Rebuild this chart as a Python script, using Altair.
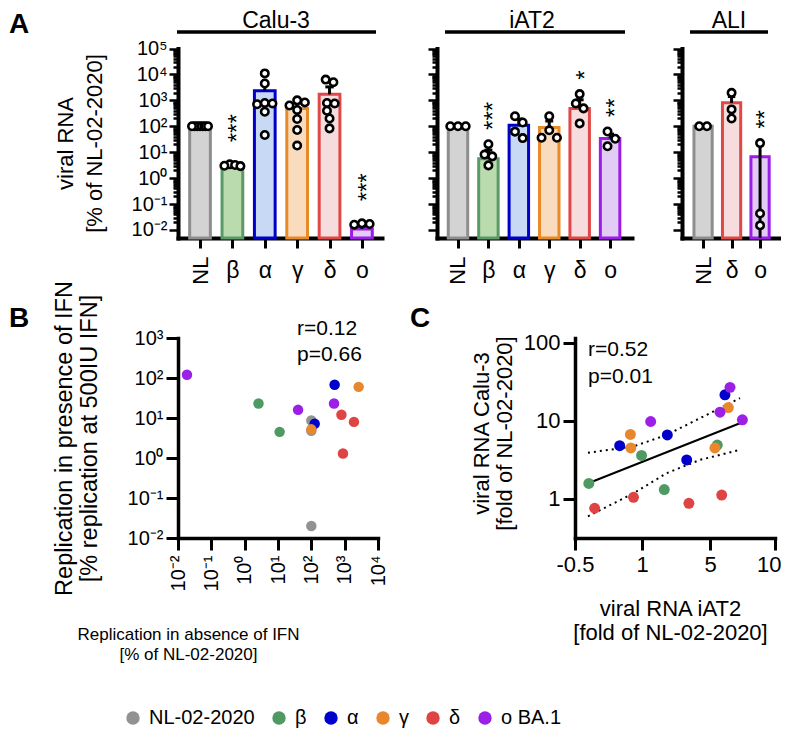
import json
import math
import altair as alt
import pandas as pd

FONT = "Liberation Sans"
OX, OY = 8, 8          # page margin -> chart origin
W, H = 773, 722

def cx(v):
    return v - OX

def cy(v):
    return v - OY

# ---------------- shared categories / colours ----------------
VARIANTS = ["NL", "β", "α", "γ", "δ", "o"]
BAR_FILL = ["#d3d3d3", "#b9dbad", "#c7d9f4", "#f8dcbd", "#f6dcdc", "#e2cbf4"]
BAR_STROKE = ["#8e8e8e", "#5a9a67", "#0000c8", "#e98a28", "#e04848", "#9a1ee6"]
LEGEND_NAMES = ["NL-02-2020", "β", "α", "γ", "δ", "o BA.1"]
DOT_COLORS = ["#929292", "#4f9a62", "#0000cc", "#e8872b", "#df4444", "#9b1fe6"]
POW_LABELS = ["10⁻²", "10⁻¹", "10⁰", "10¹", "10²", "10³", "10⁴", "10⁵"]

# ---------------- panel A : Calu-3 ----------------
CALU3_CATS = ["NL", "β", "α", "γ", "δ", "o"]
CALU3_MEAN = [100, 2.7, 2340, 490, 1700, 0.011]
CALU3_ERR_HI = [100, 3.3, 4400, 800, 3300, 0.014]
CALU3_ERR_LO = [100, 2.7, 2340, 490, 1700, 0.011]
CALU3_PTS_NL = [100, 100, 100, 100, 100, 100, 100]
CALU3_PTS_BETA = [3.4, 3.0, 3.2, 2.9]
CALU3_PTS_ALPHA = [10965, 4467, 794, 759, 708, 363, 46]
CALU3_PTS_GAMMA = [1000, 832, 631, 427, 191, 72, 18]
CALU3_PTS_DELTA = [6310, 5012, 794, 759, 398, 200, 83]
CALU3_PTS_OMICRON = [0.017, 0.016, 0.018]
CALU3_STARS = ["", "***", "", "", "", "***"]

# ---------------- panel A : iAT2 ----------------
IAT2_CATS = ["NL", "β", "α", "γ", "δ", "o"]
IAT2_MEAN = [100, 5.6, 110, 89, 490, 34]
IAT2_ERR_HI = [100, 12, 190, 160, 1050, 50]
IAT2_ERR_LO = [100, 5.6, 110, 89, 490, 34]
IAT2_PTS_NL = [100, 100, 100]
IAT2_PTS_BETA = [20.4, 8.1, 6.9, 3.1]
IAT2_PTS_ALPHA = [245, 140, 62, 35]
IAT2_PTS_GAMMA = [245, 70, 36, 36]
IAT2_PTS_DELTA = [1740, 759, 490, 129]
IAT2_PTS_OMICRON = [63, 33, 17]
IAT2_STARS = ["", "***", "", "", "*", "**"]

# ---------------- panel A : ALI ----------------
ALI_CATS = ["NL", "δ", "o"]
ALI_MEAN = [100, 800, 6.6]
ALI_ERR_HI = [100, 1400, 22]
ALI_ERR_LO = [100, 800, 0.005]
ALI_PTS_NL = [100, 100]
ALI_PTS_DELTA = [1950, 447, 200]
ALI_PTS_OMICRON = [22.4, 0.043, 0.015]
ALI_STARS = ["", "", "**"]

# ---------------- panel B ----------------
B_VARIANT = ["o BA.1", "β", "β", "o BA.1", "NL-02-2020", "NL-02-2020", "α", "γ",
             "NL-02-2020", "α", "o BA.1", "γ", "δ", "δ", "δ"]
B_X = [0.0186, 2.6, 11.2, 40, 100, 100, 126, 100, 100, 500, 480, 2630, 800, 1900, 890]
B_Y = [120, 23, 4.5, 16, 8.7, 4.8, 7.2, 5.2, 0.02, 68, 23, 60, 12, 8, 1.3]
B_STATS = "r=0.12\np=0.66"

# ---------------- panel C ----------------
C_VARIANT = ["β", "β", "β", "β", "δ", "δ", "δ", "δ", "α", "α", "α", "α",
             "γ", "γ", "γ", "γ", "o BA.1", "o BA.1", "o BA.1", "o BA.1"]
C_X = [-0.19, 0.99, 2.31, 5.56, -0.06, 0.81, 3.76, 5.9, 0.5, 2.49, 3.63, 6.15,
       0.74, 0.75, 5.38, 6.41, 1.51, 5.77, 6.54, 7.49]
C_Y = [1.58, 3.6, 1.32, 4.9, 0.76, 1.05, 0.88, 1.12, 4.8, 6.6, 3.16, 21.5,
       6.7, 4.5, 4.5, 14.8, 9.8, 12.9, 26.8, 10.3]
C_FIT_X = [-0.19, 7.3]
C_FIT_Y = [1.6, 9.3]
C_BAND_X = [-0.21, 0.81, 2.45, 4.41, 7.31]
C_BAND_UP = [3.9, 4.7, 6.6, 10.8, 19.5]
C_BAND_LO = [0.6, 1.18, 2.14, 3.16, 4.25]
C_STATS = "r=0.52\np=0.01"
C_X_TICKS = [-0.5, 1, 5, 10]

# ---------------- layout constants (page pixels) ----------------
A_Y_MIN = 10 ** -2.31
A_Y_RANGE = [cy(238), cy(48.5)]
A_PX_DECADE = 25.86
A_AX_BOTTOM = cy(238)

FILL_SCALE = alt.Scale(domain=VARIANTS, range=BAR_FILL)
STROKE_SCALE = alt.Scale(domain=VARIANTS, range=BAR_STROKE)
COLOR_SCALE = alt.Scale(domain=LEGEND_NAMES, range=DOT_COLORS)

LOGE = "round(log(datum.value)/LN10)"
IS_MAJOR = f"abs(log(datum.value)/LN10 - {LOGE}) < 0.001"
POW_EXPR = f"{IS_MAJOR} ? {json.dumps(POW_LABELS, ensure_ascii=False)}[{LOGE} + 2] : ''"
A_TICKS = [m * 10 ** k for k in range(-2, 5) for m in range(1, 10)] + [100000]


def swarm(values, ppu, ppd=A_PX_DECADE, step=7.7, dmin=7.5, limit=8.0):
    ys = [math.log10(v) * ppd for v in values]
    order = sorted(range(len(values)), key=lambda k: -ys[k])
    offs = [0.0] * len(values)
    placed = []
    for k in order:
        x = 0.0
        for c in (0, 1, -1, 2, -2, 3, -3, 4, -4, 5, -5):
            x = c * step
            if all((x - px) ** 2 + (ys[k] - py) ** 2 >= dmin ** 2 for px, py in placed):
                break
        placed.append((x, ys[k]))
        offs[k] = x
    rows = []
    for k in order:
        if rows and abs(ys[rows[-1][-1]] - ys[k]) < dmin:
            rows[-1].append(k)
        else:
            rows.append([k])
    for row in rows:
        if len(row) > 1:
            m = sum(offs[k] for k in row) / len(row)
            for k in row:
                offs[k] -= m
    mx = max(abs(o) for o in offs)
    if mx > limit:
        offs = [o * limit / mx for o in offs]
    return [o / ppu for o in offs]


def bar_panel(cats, means, hi, lo, point_lists, stars, x_page, x_domain, star_gap,
              header, header_line, header_x, show_y_labels):
    n = len(cats)
    x_rng = [cx(x_page[0]), cx(x_page[1])]
    ppu = (x_page[1] - x_page[0]) / (x_domain[1] - x_domain[0])
    xs = alt.Scale(domain=x_domain, range=x_rng, zero=False, nice=False)
    ys = alt.Scale(type="log", domain=[A_Y_MIN, 100000], range=A_Y_RANGE, nice=False)

    star_y = [max(p) * 10 ** star_gap for p in point_lists]
    bar_df = pd.DataFrame({"cat": cats, "i": list(range(n)), "mean": means,
                           "hi": hi, "lo": lo, "stars": stars, "sy": star_y})
    rows = []
    for i, (c, vals) in enumerate(zip(cats, point_lists)):
        for v, o in zip(vals, swarm(vals, ppu)):
            rows.append({"cat": c, "value": v, "px": i + o})
    pts_df = pd.DataFrame(rows)

    y_axis = alt.Axis(
        orient="left", offset=-x_rng[0], values=A_TICKS, labelExpr=POW_EXPR,
        labels=show_y_labels, labelFontSize=20, labelPadding=2, labelOverlap=False,
        labelFlush=False, labelBound=False,
        tickSize={"condition": {"test": IS_MAJOR, "value": 9}, "value": 5},
        tickWidth=2.5, domainWidth=4, domainCap="square", grid=False,
        title=(["viral RNA", "[% of NL-02-2020]"] if show_y_labels else None),
        titleAngle=270, titleBaseline="top", titleAlign="center",
        titleX=cx(55) - x_rng[0], titleY=cy(143), titleFontSize=22,
        titleLineHeight=29, titleFontWeight="normal")
    greek = json.dumps(cats, ensure_ascii=False)
    x_axis = alt.Axis(
        orient="bottom", offset=A_AX_BOTTOM - H, values=list(range(1, n)),
        labelExpr=f"{greek}[datum.value]", labelAngle=0, labelAlign="center",
        labelBaseline="top", labelFontSize=23, labelPadding=11, labelFlush=False,
        labelOverlap=False, tickSize=10, tickWidth=3, domainWidth=4,
        domainCap="square", grid=False, title=None)
    nl_axis = alt.Axis(
        orient="bottom", offset=A_AX_BOTTOM - H, values=[0],
        labelExpr=f"{greek}[datum.value]", labelAngle=270, labelAlign="right",
        labelBaseline="middle", labelFontSize=22, labelPadding=8, labelFlush=False,
        tickSize=10, tickWidth=3, domain=False, grid=False, title=None)

    base = alt.Chart(bar_df)
    bars = base.transform_calculate(
        x0="datum.i - 0.32", x1="datum.i + 0.32"
    ).mark_bar(strokeWidth=3).encode(
        x=alt.X("x0:Q", scale=xs, axis=x_axis),
        x2="x1:Q",
        y=alt.Y("mean:Q", scale=ys, axis=y_axis),
        y2=alt.datum(A_Y_MIN),
        fill=alt.Fill("cat:N", scale=FILL_SCALE, legend=None),
        stroke=alt.Stroke("cat:N", scale=STROKE_SCALE, legend=None),
    )
    err = base.mark_rule(strokeWidth=3, color="black").encode(
        x=alt.X("i:Q", scale=xs, axis=nl_axis),
        y=alt.Y("lo:Q", scale=ys, axis=None),
        y2="hi:Q",
    )
    caps = base.transform_filter("datum.hi > datum.mean * 1.05").transform_calculate(
        c0="datum.i - 0.13", c1="datum.i + 0.13"
    ).mark_rule(strokeWidth=3, color="black").encode(
        x=alt.X("c0:Q", scale=xs, axis=None), x2="c1:Q",
        y=alt.Y("hi:Q", scale=ys, axis=None),
    )
    pts = alt.Chart(pts_df).mark_circle(
        size=55, fill="white", stroke="black", strokeWidth=2.6, opacity=1
    ).encode(
        x=alt.X("px:Q", scale=xs, axis=None),
        y=alt.Y("value:Q", scale=ys, axis=None),
    )
    star = base.transform_filter("datum.stars != ''").mark_text(
        angle=270, align="left", baseline="middle", fontSize=24, dy=6, color="black"
    ).encode(
        x=alt.X("i:Q", scale=xs, axis=None),
        y=alt.Y("sy:Q", scale=ys, axis=None),
        text="stars:N",
    )
    hdf = pd.DataFrame({"label": [header]})
    hline = alt.Chart(hdf).mark_rule(strokeWidth=3.5, color="black").encode(
        x=alt.value(cx(header_line[0])), x2=alt.value(cx(header_line[1])),
        y=alt.value(cy(32)),
    )
    htext = alt.Chart(hdf).mark_text(fontSize=23, baseline="middle", align="center",
                                     color="black").encode(
        x=alt.value(cx(header_x)), y=alt.value(cy(21)), text="label:N",
    )
    return alt.layer(bars, err, caps, pts, star, hline, htext).resolve_axis(
        x="independent", y="independent")


calu3 = bar_panel(
    CALU3_CATS, CALU3_MEAN, CALU3_ERR_HI, CALU3_ERR_LO,
    [CALU3_PTS_NL, CALU3_PTS_BETA, CALU3_PTS_ALPHA, CALU3_PTS_GAMMA,
     CALU3_PTS_DELTA, CALU3_PTS_OMICRON],
    CALU3_STARS, (178, 382), [-0.68, 5.62], 0.85, "Calu-3", (177, 376), 276, True)
iat2 = bar_panel(
    IAT2_CATS, IAT2_MEAN, IAT2_ERR_HI, IAT2_ERR_LO,
    [IAT2_PTS_NL, IAT2_PTS_BETA, IAT2_PTS_ALPHA, IAT2_PTS_GAMMA,
     IAT2_PTS_DELTA, IAT2_PTS_OMICRON],
    IAT2_STARS, (437, 632), [-0.69, 5.72], 0.55, "iAT2", (445, 625), 532, False)
ali = bar_panel(
    ALI_CATS, ALI_MEAN, ALI_ERR_HI, ALI_ERR_LO,
    [ALI_PTS_NL, ALI_PTS_DELTA, ALI_PTS_OMICRON],
    ALI_STARS, (682, 780), [-0.74, 2.7], 0.55, "ALI", (690, 768), 729, False)

# ---------------- panel B ----------------
b_df = pd.DataFrame({"variant": B_VARIANT, "x": B_X, "y": B_Y})
bxs = alt.Scale(type="log", domain=[0.01, 10000], range=[cx(178), cx(378)], nice=False)
bys = alt.Scale(type="log", domain=[0.01, 1000], range=[cy(538), cy(338)], nice=False)
b_xaxis = alt.Axis(
    orient="bottom", offset=cy(538) - H, values=[0.01, 0.1, 1, 10, 100, 1000, 10000],
    labelExpr=POW_EXPR, labelAngle=270, labelAlign="right", labelBaseline="middle",
    labelFontSize=20, labelPadding=5, labelOverlap=False, labelFlush=False,
    tickSize=12, tickWidth=3, domainWidth=3.5, domainCap="square", grid=False,
    title=["Replication in absence of IFN", "[% of NL-02-2020]"],
    titleFontSize=17, titleBaseline="top", titleAlign="center",
    titleX=cx(188), titleY=88, titleLineHeight=20, titleFontWeight="normal")
b_yaxis = alt.Axis(
    orient="left", offset=-cx(178), values=[0.01, 0.1, 1, 10, 100, 1000],
    labelExpr=POW_EXPR, labelFontSize=20, labelPadding=3, labelOverlap=False,
    labelFlush=False, tickSize=12, tickWidth=3, domainWidth=3.5, domainCap="square",
    grid=False,
    title=["Replication in presence of IFN", "[% replication at 500IU IFN]"],
    titleFontSize=23.5, titleAngle=270, titleBaseline="top", titleAlign="center",
    titleX=cx(52) - cx(178), titleY=cy(438), titleLineHeight=25,
    titleFontWeight="normal")
b_pts = alt.Chart(b_df).mark_circle(size=110, opacity=1).encode(
    x=alt.X("x:Q", scale=bxs, axis=b_xaxis),
    y=alt.Y("y:Q", scale=bys, axis=b_yaxis),
    color=alt.Color("variant:N", scale=COLOR_SCALE, legend=alt.Legend(
        orient="none", legendX=cx(123), legendY=cy(708), direction="horizontal",
        columns=6, title=None, symbolType="circle", symbolSize=180,
        symbolStrokeWidth=0, labelFontSize=20, labelOffset=6, columnPadding=14,
        labelFont=FONT, labelColor="black")),
)
b_txt = alt.Chart(pd.DataFrame({"t": [B_STATS]})).mark_text(
    align="left", baseline="top", fontSize=21, lineBreak="\n", lineHeight=26,
    color="black").encode(x=alt.value(cx(297)), y=alt.value(cy(318)), text="t:N")
panel_b = alt.layer(b_pts, b_txt)

# ---------------- panel C ----------------
c_df = pd.DataFrame({"variant": C_VARIANT, "x": C_X, "y": C_Y})
fit_df = pd.DataFrame({"x": C_FIT_X, "y": C_FIT_Y})
band_df = pd.DataFrame({
    "x": C_BAND_X + C_BAND_X,
    "y": C_BAND_UP + C_BAND_LO,
    "band": ["upper"] * len(C_BAND_X) + ["lower"] * len(C_BAND_X),
})
cxs = alt.Scale(domain=C_X_TICKS, range=[cx(575), cx(642), cx(710), cx(775)],
                zero=False, nice=False)
cys = alt.Scale(type="log", domain=[10 ** -0.5, 10 ** 2.06], range=[cy(538), cy(338)],
                nice=False)
c_xaxis = alt.Axis(
    orient="bottom", offset=cy(538) - H, values=C_X_TICKS, labelExpr="'' + datum.value",
    labelFontSize=22, labelPadding=4, labelFlush=False, labelOverlap=False,
    labelAlign={"condition": {"test": "datum.value == 10", "value": "right"},
                "value": "center"},
    labelOffset={"condition": {"test": "datum.value == 10", "value": 6}, "value": 0},
    tickSize=12, tickWidth=3, domainWidth=3.5, domainCap="square", grid=False,
    title=["viral RNA iAT2", "[fold of NL-02-2020]"], titleFontSize=22,
    titleBaseline="top", titleAlign="center", titleX=cx(670), titleY=60,
    titleLineHeight=24, titleFontWeight="normal")
c_yaxis = alt.Axis(
    orient="left", offset=-cx(575), values=[1, 10, 100], labelExpr="'' + datum.value",
    labelFontSize=22, labelPadding=3, labelOverlap=False, labelFlush=False,
    tickSize=12, tickWidth=3, domainWidth=3.5, domainCap="square", grid=False,
    title=["viral RNA Calu-3", "[fold of NL-02-2020]"], titleFontSize=22,
    titleAngle=270, titleBaseline="top", titleAlign="center",
    titleX=cx(471) - cx(575), titleY=cy(433), titleLineHeight=23,
    titleFontWeight="normal")
c_band = alt.Chart(band_df).mark_line(color="black", strokeWidth=2,
                                      strokeDash=[2, 4]).encode(
    x=alt.X("x:Q", scale=cxs, axis=c_xaxis),
    y=alt.Y("y:Q", scale=cys, axis=c_yaxis),
    detail="band:N",
)
c_fit = alt.Chart(fit_df).mark_line(color="black", strokeWidth=2).encode(
    x=alt.X("x:Q", scale=cxs, axis=None), y=alt.Y("y:Q", scale=cys, axis=None))
c_pts = alt.Chart(c_df).mark_circle(size=120, opacity=1).encode(
    x=alt.X("x:Q", scale=cxs, axis=None),
    y=alt.Y("y:Q", scale=cys, axis=None),
    color=alt.Color("variant:N", scale=COLOR_SCALE, legend=None),
)
c_txt = alt.Chart(pd.DataFrame({"t": [C_STATS]})).mark_text(
    align="left", baseline="top", fontSize=21, lineBreak="\n", lineHeight=27,
    color="black").encode(x=alt.value(cx(588)), y=alt.value(cy(339)), text="t:N")
panel_c = alt.layer(c_band, c_fit, c_pts, c_txt).resolve_axis(
    x="independent", y="independent")

# ---------------- panel letters ----------------
def letter(ch, x, y):
    return alt.Chart(pd.DataFrame({"t": [ch]})).mark_text(
        fontSize=28, fontWeight="bold", align="left", baseline="top", color="black"
    ).encode(x=alt.value(cx(x)), y=alt.value(cy(y)), text="t:N")

letters = alt.layer(letter("A", 9, 11), letter("B", 9, 305), letter("C", 410, 305))

chart = alt.layer(calu3, iat2, ali, panel_b, panel_c, letters).resolve_scale(
    x="independent", y="independent"
).properties(
    width=W, height=H, autosize=alt.AutoSizeParams(type="none"), padding=0
).configure_view(stroke=None).configure_axis(
    labelFont=FONT, titleFont=FONT, labelColor="black", titleColor="black",
    tickColor="black", domainColor="black", grid=False
).configure_text(font=FONT)

chart.save("out.html", embed_options={"renderer": "svg", "actions": False})
